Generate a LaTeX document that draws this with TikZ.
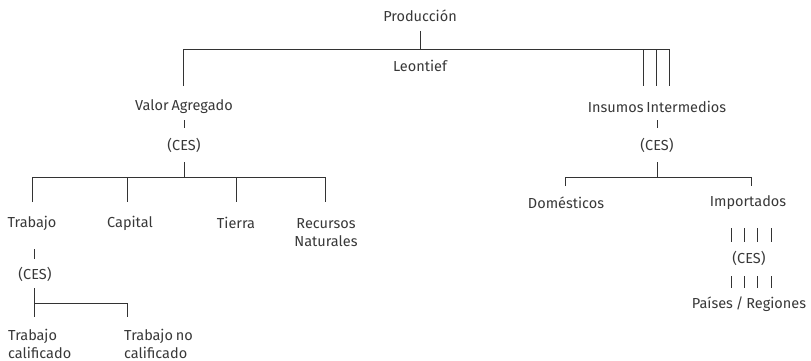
\documentclass[tikz,border=0pt]{standalone}
\usepackage{fontspec}
\setmainfont{Fira Sans}[WordSpace=0.75]
\tikzset{%
    lbl/.style={inner sep=0pt, font=\fontsize{14.5}{18}\selectfont, text=black!78},
    lblc/.style={lbl, align=center},
    lbll/.style={lbl, align=left, anchor=west},
    ln/.style={line width=1pt, black!80},
    tk/.style={line width=0.9pt, black!80},
}

\begin{document}
\begin{tikzpicture}[x=1pt,y=-1pt]
    \useasboundingbox (0,0) rectangle (811,361);
    % upper level
    \node[lbl] (prod) at (420,16) {Producción};
    \node[lbl] (leon) at (420,66) {Leontief};
    \node[lbl] (va) at (184,107) {Valor Agregado};
    \node[lbl] (vaces) at (184,145) {(CES)};
    \node[lbl] (ii) at (657,107) {Insumos Intermedios};
    \node[lbl] (iices) at (657,145) {(CES)};
    \coordinate (p0) at (420,31);
    \coordinate (p1) at (420,50);
    \coordinate (va0) at (183,86);
    \coordinate (ii0) at (669,86);
    \draw[ln] (p0) -- (p1);
    \draw[ln] (va0) |- (ii0 |- p1) -- (ii0);
    \foreach \x in {643,656} \draw[ln] (\x,50) -- (\x,86);
    % valor agregado
    \draw[tk] (va.south |- 0,120) -- (va.south |- 0,128);
    \coordinate (v0) at (184,162);
    \coordinate (v1) at (184,177);
    \coordinate (tr0) at (32,202);
    \coordinate (rn0) at (325,202);
    \draw[ln] (v0) -- (v1);
    \draw[ln] (tr0) |- (rn0 |- v1) -- (rn0);
    \foreach \x in {127,236} \draw[ln] (\x,177) -- (\x,202);
    \node[lbl] (trab) at (32,223) {Trabajo};
    \node[lbl] (cap) at (130,223) {Capital};
    \node[lbl] (tier) at (236,223) {Tierra};
    \node[lblc] (rn) at (326,233) {Recursos\\Naturales};
    % trabajo
    \draw[tk] (34,249) -- (34,259);
    \node[lbl] (trces) at (35,274) {(CES)};
    \coordinate (t0) at (34,288);
    \coordinate (tc0) at (34,317);
    \coordinate (tn0) at (127,317);
    \draw[ln] (t0) -- (tc0);
    \draw[ln] (tc0 |- 0,303) -| (tn0);
    \node[lbll] (tc) at (8,344) {Trabajo\\calificado};
    \node[lbll] (tnc) at (124,344) {Trabajo no\\calificado};
    % insumos intermedios
    \draw[tk] (657,120) -- (657,128);
    \coordinate (i0) at (657,162);
    \coordinate (i1) at (657,177);
    \coordinate (dm0) at (565,186);
    \coordinate (im0) at (751,186);
    \draw[ln] (i0) -- (i1);
    \draw[ln] (dm0) |- (im0 |- i1) -- (im0);
    \node[lbl] (dom) at (566,203) {Domésticos};
    \node[lbl] (imp) at (748,203) {Importados};
    \foreach \x in {731,744,757,771} {
        \draw[tk] (\x,228) -- (\x,242);
        \draw[tk] (\x,276) -- (\x,288);
    }
    \node[lbl] (impces) at (749,258) {(CES)};
    \node[lbl] (pr) at (749,304) {Países / Regiones};
\end{tikzpicture}
\end{document}
